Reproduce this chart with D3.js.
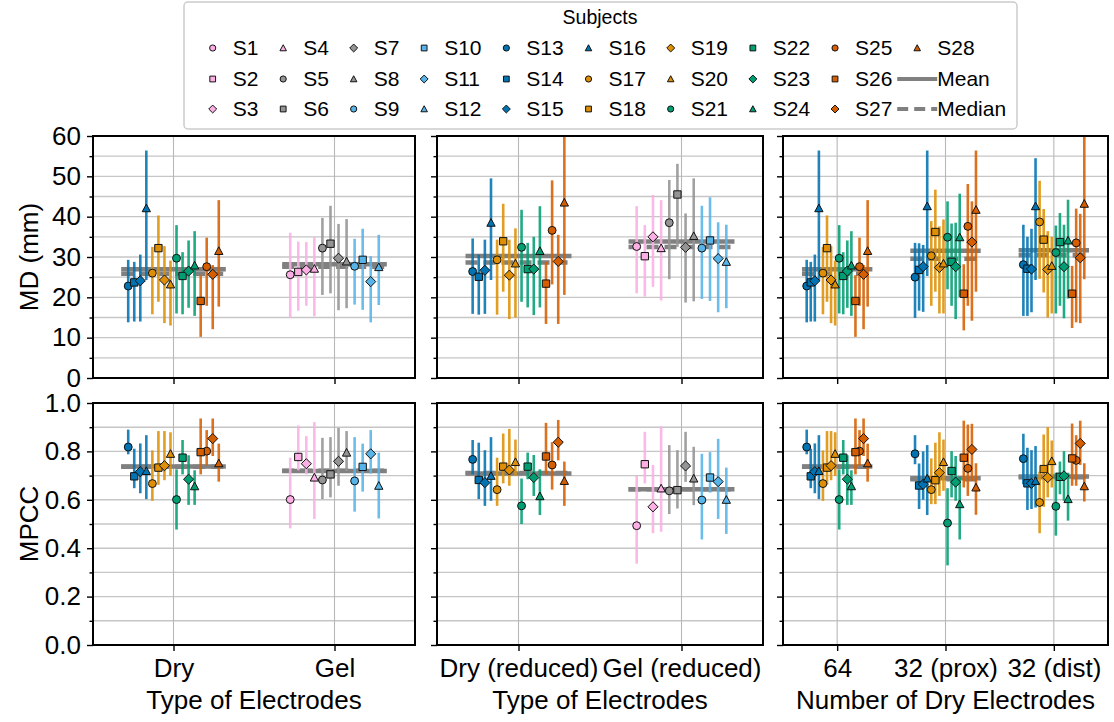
<!DOCTYPE html>
<html>
<head>
<meta charset="utf-8">
<script src="https://cdn.jsdelivr.net/npm/d3@7"></script>
<style>
  body { margin: 0; background: #fff; }
  svg { display: block; }
  text { font-family: "Liberation Sans", Arial, Helvetica, sans-serif; fill: #000; }
</style>
</head>
<body>
<svg id="chart" width="1114" height="722"></svg>
<script>
// ---- subjects, colours and markers ----
const gelSubjects = ["S1","S2","S3","S4","S5","S6","S7","S8","S9","S10","S11","S12"];
const drySubjects = ["S13","S14","S15","S16","S17","S18","S19","S20","S21","S22","S23","S24","S25","S26","S27","S28"];
// left-to-right order of the dry subjects inside a group
const dryOrder = ["S13","S14","S15","S16","S17","S18","S19","S20","S21","S22","S23","S24","S26","S25","S27","S28"];
const familyColors = ["#fbafe4","#949494","#56b4e9","#0173b2","#de8f05","#029e73","#d55e00"];
const shapes = ["circle","square","diamond","triangle"];

// ---- MD (mm): [mean, low, high] per subject ----
const mdDry = [
  [22.8,13.8,29.3],[23.7,14.0,28.8],[24.1,14.0,30.6],[42.1,24.3,56.4],
  [26.0,15.8,32.5],[32.2,18.9,40.3],[24.3,13.6,32.7],[23.2,13.0,29.1],
  [29.7,16.0,37.9],[25.3,15.8,31.2],[26.5,17.4,34.1],[27.9,15.4,36.4],
  [27.6,17.9,34.8],[19.1,10.2,25.5],[25.7,12.1,28.0],[31.5,17.7,44.1]];
const mdGel = [
  [25.6,14.9,36.0],[26.3,16.7,33.8],[26.8,17.9,33.7],[27.1,15.3,34.9],
  [32.2,20.6,39.7],[33.3,21.0,42.7],[29.7,16.8,38.2],[28.9,17.3,39.4],
  [27.7,18.2,34.5],[29.3,16.9,37.0],[23.9,13.8,30.2],[27.5,18.1,35.5]];
const mdDryReduced = [
  [26.4,15.9,34.6],[25.1,15.7,30.6],[26.7,15.9,34.3],[38.5,24.3,49.5],
  [29.3,15.7,34.3],[33.9,21.4,43.2],[25.5,14.6,34.3],[28.4,15.0,37.1],
  [32.4,18.9,41.7],[27.0,17.5,33.5],[27.0,15.6,35.0],[31.5,17.5,42.6],
  [36.6,23.2,49.0],[23.4,13.4,28.8],[28.9,13.4,35.5],[43.5,20.6,62.0]];
const mdGelReduced = [
  [32.6,21.0,42.6],[30.2,20.2,37.9],[35.0,22.6,45.4],[32.2,19.2,44.1],
  [38.5,24.5,49.1],[45.5,32.5,53.1],[32.4,18.7,40.8],[35.2,19.0,49.5],
  [32.2,19.6,42.7],[34.1,19.1,44.8],[29.6,16.3,38.6],[28.8,17.3,38.0]];
const md64 = mdDry;
const md32prox = [
  [25.0,14.9,33.5],[26.8,16.7,33.4],[27.6,16.4,33.0],[42.6,25.3,56.4],
  [30.3,17.9,38.9],[36.2,21.4,46.7],[27.4,16.0,37.6],[28.4,16.0,39.3],
  [34.9,22.0,43.8],[28.8,17.9,38.3],[27.6,14.6,38.5],[34.9,20.1,45.7],
  [37.6,17.9,48.1],[20.9,11.8,28.2],[33.7,14.2,43.8],[41.7,21.4,56.4]];
const md32dist = [
  [28.1,15.4,38.0],[27.1,15.4,35.0],[27.0,16.3,37.0],[42.6,24.3,54.5],
  [38.7,24.6,48.9],[34.3,21.2,41.9],[26.9,15.0,36.4],[27.8,16.0,35.0],
  [31.1,16.0,37.8],[33.7,17.9,40.9],[27.6,14.8,38.0],[34.1,19.7,44.2],
  [33.5,13.8,42.0],[20.9,12.4,27.8],[29.8,13.6,40.7],[43.2,24.5,62.0]];

// ---- MPCC: [mean, low, high] per subject ----
const mpccDry = [
  [0.818,0.788,0.890],[0.697,0.648,0.811],[0.716,0.627,0.833],[0.719,0.603,0.867],
  [0.667,0.596,0.804],[0.733,0.662,0.884],[0.741,0.681,0.884],[0.790,0.699,0.879],
  [0.601,0.477,0.726],[0.774,0.705,0.847],[0.685,0.579,0.784],[0.656,0.579,0.722],
  [0.801,0.742,0.888],[0.797,0.705,0.936],[0.853,0.781,0.936],[0.751,0.675,0.832]];
const mpccGel = [
  [0.601,0.482,0.774],[0.777,0.722,0.907],[0.749,0.705,0.863],[0.692,0.521,0.921],
  [0.682,0.603,0.856],[0.705,0.610,0.859],[0.759,0.658,0.897],[0.795,0.719,0.884],
  [0.678,0.551,0.859],[0.736,0.634,0.832],[0.790,0.708,0.888],[0.658,0.523,0.795]];
const mpccDryReduced = [
  [0.767,0.705,0.847],[0.682,0.603,0.836],[0.671,0.575,0.805],[0.699,0.596,0.859],
  [0.642,0.575,0.774],[0.737,0.668,0.874],[0.723,0.658,0.893],[0.756,0.699,0.849],
  [0.575,0.500,0.688],[0.737,0.685,0.795],[0.692,0.616,0.785],[0.615,0.537,0.726],
  [0.744,0.642,0.838],[0.779,0.705,0.918],[0.838,0.763,0.930],[0.678,0.575,0.758]];
const mpccGelReduced = [
  [0.493,0.336,0.699],[0.747,0.668,0.881],[0.571,0.462,0.744],[0.647,0.468,0.904],
  [0.637,0.541,0.826],[0.640,0.564,0.805],[0.740,0.674,0.881],[0.688,0.578,0.819],
  [0.599,0.436,0.790],[0.692,0.630,0.797],[0.675,0.521,0.852],[0.600,0.459,0.733]];
const mpcc64 = mpccDry;
const mpcc32prox = [
  [0.790,0.747,0.867],[0.659,0.562,0.750],[0.664,0.600,0.800],[0.688,0.537,0.826],
  [0.642,0.582,0.771],[0.681,0.582,0.836],[0.712,0.616,0.879],[0.756,0.637,0.849],
  [0.504,0.329,0.648],[0.719,0.610,0.801],[0.673,0.596,0.781],[0.582,0.436,0.695],
  [0.730,0.616,0.911],[0.774,0.651,0.927],[0.808,0.678,0.914],[0.651,0.538,0.751]];
const mpcc32dist = [
  [0.770,0.664,0.873],[0.668,0.558,0.815],[0.668,0.562,0.805],[0.678,0.568,0.822],
  [0.589,0.462,0.716],[0.727,0.571,0.870],[0.692,0.610,0.900],[0.760,0.651,0.845],
  [0.573,0.452,0.712],[0.695,0.623,0.758],[0.699,0.596,0.801],[0.603,0.514,0.712],
  [0.763,0.658,0.867],[0.771,0.658,0.915],[0.833,0.744,0.927],[0.656,0.593,0.751]];

// ---- axis ticks and labels ----
const mdTicks = [0,10,20,30,40,50,60];
const mdMinorTicks = [5,15,25,35,45,55];
const mpccTicks = [0,0.2,0.4,0.6,0.8,1.0];
const mpccMinorTicks = [0.1,0.3,0.5,0.7,0.9];
const panelCategories = [
  ["Dry","Gel"],
  ["Dry (reduced)","Gel (reduced)"],
  ["64","32 (prox)","32 (dist)"]];
const panelTitles = ["Type of Electrodes","Type of Electrodes","Number of Dry Electrodes"];

// ---- layout ----
const AXIS_FONT = 26;
const LEGEND_FONT = 21;
const svg = d3.select("#chart");
const panelX = [[93,415],[437,763],[783,1108]];
const rows = [
  {key:"md", top:136, bottom:378, domain:[0,60], ticks:mdTicks, minor:mdMinorTicks,
   fmt:d3.format("d"), label:"MD (mm)"},
  {key:"mpcc", top:403, bottom:645, domain:[0,1], ticks:mpccTicks, minor:mpccMinorTicks,
   fmt:d3.format(".1f"), label:"MPCC"}];

const panelGroups = [
  [{subjects:drySubjects, order:dryOrder, md:mdDry, mpcc:mpccDry},
   {subjects:gelSubjects, order:gelSubjects, md:mdGel, mpcc:mpccGel}],
  [{subjects:drySubjects, order:dryOrder, md:mdDryReduced, mpcc:mpccDryReduced},
   {subjects:gelSubjects, order:gelSubjects, md:mdGelReduced, mpcc:mpccGelReduced}],
  [{subjects:drySubjects, order:dryOrder, md:md64, mpcc:mpcc64},
   {subjects:drySubjects, order:dryOrder, md:md32prox, mpcc:mpcc32prox},
   {subjects:drySubjects, order:dryOrder, md:md32dist, mpcc:mpcc32dist}]];

function subjectIndex(s) { return +s.slice(1) - 1; }
function subjectColor(s) { return familyColors[Math.floor(subjectIndex(s) / 4)]; }
function subjectShape(s) { return shapes[subjectIndex(s) % 4]; }

function markerPath(shape, size) {
  const h = size / 2;
  const p = d3.path();
  if (shape === "circle") {
    p.arc(0, 0, h, 0, 2 * Math.PI);
  } else if (shape === "square") {
    const a = h * 0.93;
    p.rect(-a, -a, 2 * a, 2 * a);
  } else if (shape === "diamond") {
    const a = h * 1.28;
    p.moveTo(0, -a); p.lineTo(a, 0); p.lineTo(0, a); p.lineTo(-a, 0); p.closePath();
  } else {
    const a = h * 1.05;
    p.moveTo(0, -a); p.lineTo(a, a * 0.85); p.lineTo(-a, a * 0.85); p.closePath();
  }
  return p.toString();
}

const DODGE = 0.6;     // total width taken by the subjects of one group
const HALF_LINE = 0.325;
const MARKER = 7.9;

panelX.forEach(([x0, x1], pi) => {
  const cats = panelCategories[pi];
  const x = d3.scaleLinear().domain([-0.5, cats.length - 0.5]).range([x0, x1]);

  rows.forEach((row, ri) => {
    const y = d3.scaleLinear().domain(row.domain).range([row.bottom, row.top]);
    const clipId = `clip-${pi}-${ri}`;
    svg.append("clipPath").attr("id", clipId)
      .append("rect").attr("x", x0).attr("y", row.top)
      .attr("width", x1 - x0).attr("height", row.bottom - row.top);

    const cell = svg.append("g").attr("clip-path", `url(#${clipId})`);

    // grid
    cell.selectAll("line.hgrid").data(row.ticks.concat(row.minor)).join("line")
      .attr("class", "hgrid")
      .attr("x1", x0).attr("x2", x1)
      .attr("y1", d => y(d)).attr("y2", d => y(d))
      .attr("stroke", "#c6c6c6").attr("stroke-width", 1.4);
    cell.selectAll("line.vgrid").data(cats.map((c, i) => i)).join("line")
      .attr("class", "vgrid")
      .attr("x1", d => x(d)).attr("x2", d => x(d))
      .attr("y1", row.top).attr("y2", row.bottom)
      .attr("stroke", "#b8b8b8").attr("stroke-width", 1.1);

    panelGroups[pi].forEach((grp, gi) => {
      const vals = grp[row.key];
      const n = grp.subjects.length;
      const recs = grp.subjects.map((s, i) => ({
        s, m: vals[i][0], lo: vals[i][1], hi: vals[i][2],
        cx: gi + (grp.order.indexOf(s) - (n - 1) / 2) * DODGE / n
      }));
      const meanV = d3.mean(recs, d => d.m);
      const medianV = d3.median(recs, d => d.m);

      // group mean (solid) and median (dashed)
      cell.append("line")
        .attr("x1", x(gi - HALF_LINE)).attr("x2", x(gi + HALF_LINE))
        .attr("y1", y(meanV)).attr("y2", y(meanV))
        .attr("stroke", "#808080").attr("stroke-width", 4.5);
      cell.append("line")
        .attr("x1", x(gi - HALF_LINE)).attr("x2", x(gi + HALF_LINE))
        .attr("y1", y(medianV)).attr("y2", y(medianV))
        .attr("stroke", "#808080").attr("stroke-width", 4.5)
        .attr("stroke-dasharray", "12,6");

      // error bars
      cell.selectAll(null).data(recs).join("line")
        .attr("x1", d => x(d.cx)).attr("x2", d => x(d.cx))
        .attr("y1", d => y(d.lo)).attr("y2", d => y(d.hi))
        .attr("stroke", d => subjectColor(d.s))
        .attr("stroke-opacity", 0.88)
        .attr("stroke-width", 2.6);

      // subject markers
      cell.selectAll(null).data(recs).join("path")
        .attr("transform", d => `translate(${x(d.cx)},${y(d.m)})`)
        .attr("d", d => markerPath(subjectShape(d.s), MARKER))
        .attr("fill", d => subjectColor(d.s))
        .attr("stroke", "#111").attr("stroke-width", 1);
    });

    // axes
    const yMajor = d3.axisLeft(y).tickValues(row.ticks).tickSize(6).tickPadding(6)
      .tickFormat(pi === 0 ? row.fmt : () => "");
    const yMinor = d3.axisLeft(y).tickValues(row.minor).tickSize(3.5).tickFormat(() => "");
    const gy = svg.append("g").attr("transform", `translate(${x0},0)`).call(yMajor);
    const gy2 = svg.append("g").attr("transform", `translate(${x0},0)`).call(yMinor);
    [gy, gy2].forEach(g => {
      g.select(".domain").remove();
      g.selectAll(".tick line").attr("stroke", "#000").attr("stroke-width", 1.4);
      g.selectAll("text").attr("font-size", AXIS_FONT).attr("font-family", null);
    });

    const xAxis = d3.axisBottom(x).tickValues(cats.map((c, i) => i)).tickSize(6).tickPadding(8)
      .tickFormat(ri === 1 ? (d => cats[d]) : () => "");
    const gx = svg.append("g").attr("transform", `translate(0,${row.bottom})`).call(xAxis);
    gx.select(".domain").remove();
    gx.selectAll(".tick line").attr("stroke", "#000").attr("stroke-width", 1.4);
    gx.selectAll("text").attr("font-size", AXIS_FONT).attr("font-family", null);

    // frame
    svg.append("rect")
      .attr("x", x0).attr("y", row.top)
      .attr("width", x1 - x0).attr("height", row.bottom - row.top)
      .attr("fill", "none").attr("stroke", "#000").attr("stroke-width", 2);
  });

  svg.append("text")
    .attr("x", (x0 + x1) / 2).attr("y", 709)
    .attr("text-anchor", "middle").attr("font-size", AXIS_FONT)
    .text(panelTitles[pi]);
});

// y axis titles
rows.forEach(row => {
  svg.append("text")
    .attr("transform", `translate(38,${(row.top + row.bottom) / 2}) rotate(-90)`)
    .attr("text-anchor", "middle").attr("font-size", AXIS_FONT)
    .text(row.label);
});

// ---- legend ----
const legend = svg.append("g");
legend.append("rect")
  .attr("x", 184).attr("y", 2).attr("width", 833).attr("height", 127)
  .attr("rx", 4).attr("fill", "#fff").attr("stroke", "#cccccc").attr("stroke-width", 1.5);
legend.append("text")
  .attr("x", 600).attr("y", 24).attr("text-anchor", "middle").attr("font-size", 19.5)
  .text("Subjects");

const legendEntries = gelSubjects.concat(drySubjects).map(s => ({label: s, kind: "subject"}))
  .concat([{label: "Mean", kind: "mean"}, {label: "Median", kind: "median"}]);
const legendRowsY = [48, 79, 109];
let colX = 192.7;
for (let c = 0; c * 3 < legendEntries.length; c++) {
  const entries = legendEntries.slice(c * 3, c * 3 + 3);
  let maxW = 0;
  entries.forEach((e, r) => {
    const cy = legendRowsY[r];
    if (e.kind === "subject") {
      legend.append("path")
        .attr("transform", `translate(${colX + 20},${cy})`)
        .attr("d", markerPath(subjectShape(e.label), 6.2))
        .attr("fill", subjectColor(e.label))
        .attr("stroke", "#111").attr("stroke-width", 1);
    } else {
      legend.append("line")
        .attr("x1", colX).attr("x2", colX + 40).attr("y1", cy).attr("y2", cy)
        .attr("stroke", "#808080").attr("stroke-width", 4)
        .attr("stroke-dasharray", e.kind === "median" ? "11,6" : null);
    }
    const t = legend.append("text")
      .attr("x", colX + 40).attr("y", cy).attr("dy", "0.35em")
      .attr("font-size", LEGEND_FONT).text(e.label);
    maxW = Math.max(maxW, t.node().getComputedTextLength());
  });
  colX += 40 + maxW + 4.8;
}
</script>
</body>
</html>
